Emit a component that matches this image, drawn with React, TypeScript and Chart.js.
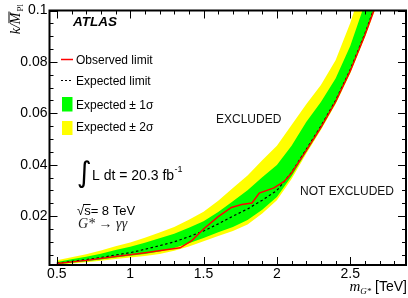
import { useEffect, useRef } from "react";
import { Chart, registerables } from "chart.js";

Chart.register(...registerables);

// ---- data ----
const massGrid = [0.5, 0.6, 0.7, 0.8, 0.9, 1.0, 1.1, 1.2, 1.3, 1.4, 1.5, 1.6, 1.7, 1.8, 1.9, 2.0, 2.1, 2.2, 2.3, 2.4, 2.5, 2.6, 2.7];
const expected = [0.0017, 0.0024, 0.0031, 0.0039, 0.0049, 0.0058, 0.0071, 0.0085, 0.0100, 0.0120, 0.0142, 0.0170, 0.0200, 0.0228, 0.0262, 0.0300, 0.0370, 0.0460, 0.0550, 0.0650, 0.0770, 0.0910, 0.107];
const plus1 = [0.0022, 0.0032, 0.0042, 0.0054, 0.0068, 0.0081, 0.0097, 0.0114, 0.0132, 0.0155, 0.0180, 0.0216, 0.0258, 0.0301, 0.0351, 0.0399, 0.0474, 0.0566, 0.0644, 0.0735, 0.0862, 0.1028, 0.123];
const plus2 = [0.0028, 0.0040, 0.0052, 0.0066, 0.0083, 0.0098, 0.0116, 0.0136, 0.0158, 0.0186, 0.0217, 0.0260, 0.0310, 0.0358, 0.0417, 0.0474, 0.0555, 0.0635, 0.0710, 0.0806, 0.0951, 0.1128, 0.135];
const minus1 = [0.0013, 0.0019, 0.0025, 0.0031, 0.0039, 0.0046, 0.0053, 0.0063, 0.0076, 0.0095, 0.0115, 0.0137, 0.0158, 0.0185, 0.0225, 0.0275, 0.0355, 0.0450, 0.0540, 0.0640, 0.0760, 0.0900, 0.106];
const minus2 = [0.0011, 0.0016, 0.0021, 0.0027, 0.0033, 0.0039, 0.0045, 0.0053, 0.0065, 0.0082, 0.0102, 0.0123, 0.0142, 0.0168, 0.0210, 0.0262, 0.0345, 0.0443, 0.0535, 0.0635, 0.0755, 0.0895, 0.105];
const obsMass = [0.5, 0.7, 0.9, 1.09, 1.34, 1.42, 1.5, 1.6, 1.69, 1.76, 1.83, 1.88, 1.98, 2.05, 2.1, 2.2, 2.3, 2.4, 2.5, 2.6, 2.7];
const observed = [0.0016, 0.0028, 0.0043, 0.0057, 0.0077, 0.0105, 0.0150, 0.0198, 0.0234, 0.0245, 0.0251, 0.0290, 0.0310, 0.0335, 0.0368, 0.0455, 0.0545, 0.0645, 0.0765, 0.0905, 0.106];

const xRange = [0.45, 2.88];
const yRange = [0.001, 0.1];
const xMajorStep = 0.5;
const yMajorStep = 0.02;
const xMinorStep = 0.1;
const yMinorStep = 0.005;

const legendItems = ["Observed limit", "Expected limit", "Expected ± 1σ", "Expected ± 2σ"];

const SANS = '"Liberation Sans", Arial, Helvetica, sans-serif';
const SERIF = '"Liberation Serif", "Times New Roman", serif';

const pts = (xs: number[], ys: number[]) => xs.map((x, i) => ({ x, y: ys[i] }));

const decor = {
  id: "decor",
  afterDraw(chart: any) {
    const { ctx, chartArea: a, scales } = chart;
    const xs = scales.x;
    const ys = scales.y;
    ctx.save();
    // ticks (inward, on all four sides)
    ctx.strokeStyle = "#000";
    ctx.lineWidth = 1;
    ctx.beginPath();
    const kx0 = Math.ceil(xRange[0] / xMinorStep - 1e-9);
    const kx1 = Math.floor(xRange[1] / xMinorStep + 1e-9);
    const rx = Math.round(xMajorStep / xMinorStep);
    for (let k = kx0; k <= kx1; k++) {
      const px = Math.round(xs.getPixelForValue(k * xMinorStep)) + 0.5;
      const len = k % rx === 0 ? 8 : 4;
      ctx.moveTo(px, a.bottom);
      ctx.lineTo(px, a.bottom - len);
      ctx.moveTo(px, a.top);
      ctx.lineTo(px, a.top + len);
    }
    const ky0 = Math.ceil(yRange[0] / yMinorStep - 1e-9);
    const ky1 = Math.floor(yRange[1] / yMinorStep + 1e-9);
    const ry = Math.round(yMajorStep / yMinorStep);
    for (let k = ky0; k <= ky1; k++) {
      const py = Math.round(ys.getPixelForValue(k * yMinorStep)) + 0.5;
      const len = k % ry === 0 ? 8 : 4;
      ctx.moveTo(a.left, py);
      ctx.lineTo(a.left + len, py);
      ctx.moveTo(a.right, py);
      ctx.lineTo(a.right - len, py);
    }
    ctx.stroke();
    // frame
    ctx.lineWidth = 2;
    ctx.strokeRect(a.left, a.top, a.right - a.left, a.bottom - a.top);

    ctx.fillStyle = "#000";
    ctx.textAlign = "left";
    ctx.textBaseline = "alphabetic";

    // ATLAS
    ctx.font = `italic bold 13.5px ${SANS}`;
    ctx.fillText("ATLAS", 73, 26);

    // legend
    ctx.font = `12px ${SANS}`;
    const lx = 76;
    ctx.strokeStyle = "#ff0000";
    ctx.lineWidth = 1.5;
    ctx.beginPath();
    ctx.moveTo(61, 59.5);
    ctx.lineTo(73, 59.5);
    ctx.stroke();
    ctx.fillText(legendItems[0], lx, 63.5);
    ctx.strokeStyle = "#000";
    ctx.lineWidth = 1;
    ctx.setLineDash([2, 2]);
    ctx.beginPath();
    ctx.moveTo(61, 80.5);
    ctx.lineTo(73, 80.5);
    ctx.stroke();
    ctx.setLineDash([]);
    ctx.fillText(legendItems[1], lx, 85);
    ctx.fillStyle = "#00ff00";
    ctx.fillRect(62, 97, 10.5, 14.5);
    ctx.fillStyle = "#ffff00";
    ctx.fillRect(62, 121, 10.5, 14);
    ctx.fillStyle = "#000";
    ctx.fillText(legendItems[2], lx, 108.5);
    ctx.fillText(legendItems[3], lx, 130.5);

    // region labels
    ctx.fillStyle = "#111";
    ctx.font = `12px ${SANS}`;
    ctx.fillText("EXCLUDED", 216, 122.5);
    ctx.fillText("NOT EXCLUDED", 300, 194.5);

    // integral
    ctx.fillStyle = "#000";
    ctx.font = `100px "DejaVu Sans"`;
    const m = ctx.measureText("∫");
    const h = (m.actualBoundingBoxAscent || 70) + (m.actualBoundingBoxDescent || 20);
    const fs = (28 / h) * 100;
    ctx.font = `${fs}px "DejaVu Sans"`;
    const m2 = ctx.measureText("∫");
    ctx.fillText("∫", 78 + (m2.actualBoundingBoxLeft || 0), 160 + (m2.actualBoundingBoxAscent || 20));
    ctx.font = `14px ${SANS}`;
    ctx.fillText("L dt = 20.3 fb", 92, 180);
    const wl = ctx.measureText("L dt = 20.3 fb").width;
    ctx.font = `9px ${SANS}`;
    ctx.fillText("-1", 92 + wl + 0.5, 172);

    // sqrt(s)
    ctx.font = `13px ${SANS}`;
    ctx.fillText("√", 77, 215);
    const wr = ctx.measureText("√").width;
    ctx.fillText("s= 8 TeV", 77 + wr, 215);
    const wsq = ctx.measureText("s").width;
    ctx.lineWidth = 1;
    ctx.beginPath();
    ctx.moveTo(77 + wr - 1, 204.5);
    ctx.lineTo(77 + wr + wsq, 204.5);
    ctx.stroke();

    // G* -> gamma gamma
    ctx.fillStyle = "#222";
    ctx.font = `italic 14px ${SERIF}`;
    ctx.fillText("G* → γγ", 78, 228);

    // y-axis title  k / M_Pl
    ctx.fillStyle = "#000";
    ctx.save();
    ctx.translate(20, 4);
    ctx.rotate(-Math.PI / 2);
    ctx.font = `italic 14px ${SERIF}`;
    const wk = ctx.measureText("k/").width;
    const wM = ctx.measureText("M").width;
    ctx.font = `9px ${SERIF}`;
    const wP = ctx.measureText("Pl").width;
    const total = wk + wM + 1 + wP;
    const x0 = -total;
    ctx.font = `italic 14px ${SERIF}`;
    ctx.fillText("k/", x0, 0);
    ctx.fillText("M", x0 + wk, 0);
    ctx.lineWidth = 1;
    ctx.beginPath();
    ctx.moveTo(x0 + wk + 1, -11);
    ctx.lineTo(x0 + wk + wM + 1, -11);
    ctx.stroke();
    ctx.font = `9px ${SERIF}`;
    ctx.fillText("Pl", x0 + wk + wM + 1, 3);
    ctx.restore();

    // x-axis title  m_G* [TeV]
    ctx.font = `14px ${SANS}`;
    const wT = ctx.measureText(" [TeV]").width;
    ctx.font = `italic 9px ${SERIF}`;
    const wG = ctx.measureText("G*").width;
    ctx.font = `italic 15px ${SERIF}`;
    const wm = ctx.measureText("m").width;
    const xr = 407;
    const xm = xr - wT - wG - wm;
    ctx.fillText("m", xm, 291);
    ctx.font = `italic 9px ${SERIF}`;
    ctx.fillText("G*", xm + wm, 294);
    ctx.font = `14px ${SANS}`;
    ctx.fillText(" [TeV]", xm + wm + wG, 291);

    ctx.restore();
  },
};

export default function App() {
  const ref = useRef<HTMLCanvasElement | null>(null);
  useEffect(() => {
    document.body.style.margin = "0";
    const canvas = ref.current;
    if (!canvas) return;
    const line = (data: any, extra: any) => ({
      data,
      pointRadius: 0,
      tension: 0,
      borderColor: "rgba(0,0,0,0)",
      borderWidth: 1,
      fill: false,
      ...extra,
    });
    const chart = new Chart(canvas, {
      type: "line",
      data: {
        datasets: [
          line(pts(obsMass, observed), { label: legendItems[0], borderColor: "#ff0000", borderWidth: 1.5, order: 0 }),
          line(pts(massGrid, expected), { label: legendItems[1], borderColor: "#000", borderWidth: 1.2, borderDash: [2.5, 2.5], order: 1 }),
          line(pts(massGrid, plus1), { label: "+1", fill: 3, backgroundColor: "#00ff00", order: 2 }),
          line(pts(massGrid, minus1), { label: "-1", order: 3 }),
          line(pts(massGrid, plus2), { label: "+2", fill: 5, backgroundColor: "#ffff00", order: 4 }),
          line(pts(massGrid, minus2), { label: "-2", order: 5 }),
        ],
      },
      options: {
        animation: false,
        responsive: false,
        devicePixelRatio: 1,
        events: [],
        layout: { padding: { top: 10.5, right: 2, left: 0, bottom: 0 } },
        plugins: { legend: { display: false }, tooltip: { enabled: false }, title: { display: false } },
        scales: {
          x: {
            type: "linear",
            min: xRange[0],
            max: xRange[1],
            grid: { display: false, drawTicks: false },
            border: { display: false },
            afterFit: (s: any) => {
              s.height = 33;
            },
            ticks: {
              stepSize: xMajorStep,
              includeBounds: false,
              autoSkip: false,
              maxRotation: 0,
              padding: 1,
              color: "#000",
              font: { family: SANS, size: 14 },
              callback: (v: any) => String(+Number(v).toFixed(2)),
            },
          },
          y: {
            type: "linear",
            min: yRange[0],
            max: yRange[1],
            grid: { display: false, drawTicks: false },
            border: { display: false },
            afterFit: (s: any) => {
              s.width = 49.5;
            },
            ticks: {
              stepSize: yMajorStep,
              includeBounds: false,
              autoSkip: false,
              padding: 2,
              color: "#000",
              font: { family: SANS, size: 14 },
              callback: (v: any) => String(+Number(v).toFixed(3)),
            },
          },
        },
      },
      plugins: [decor],
    } as any);
    return () => chart.destroy();
  }, []);
  return <canvas ref={ref} width={408} height={298} style={{ display: "block", width: 408, height: 298 }} />;
}
